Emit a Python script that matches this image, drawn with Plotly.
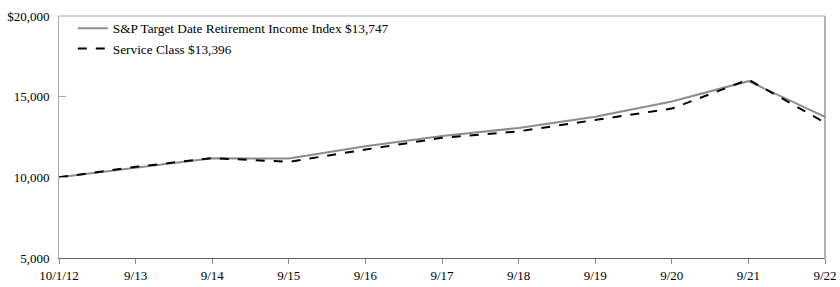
import plotly.graph_objects as go

dates = ["10/1/12", "9/13", "9/14", "9/15", "9/16", "9/17", "9/18", "9/19", "9/20", "9/21", "9/22"]
index_vals = [10000, 10600, 11180, 11170, 11930, 12560, 13060, 13750, 14700, 15960, 13747]
service_vals = [10000, 10650, 11190, 10960, 11720, 12450, 12850, 13560, 14260, 16060, 13396]
index_name = "S&P Target Date Retirement Income Index $13,747"
service_name = "Service Class $13,396"
ytickvals = [5000, 10000, 15000, 20000]
yticktext = ["5,000", "10,000", "15,000", "$20,000"]

xpos = list(range(len(dates)))

fig = go.Figure()
fig.add_trace(go.Scatter(x=xpos, y=index_vals, mode="lines", name=index_name,
                         line=dict(color="#8c8c8c", width=2)))
fig.add_trace(go.Scatter(x=xpos, y=service_vals, mode="lines", name=service_name,
                         line=dict(color="#000000", width=2, dash="dash")))

fam = "Liberation Serif, Times New Roman, serif"
font = dict(family=fam, size=13, color="#000")
fig.update_layout(
    width=840, height=287,
    margin=dict(l=59, r=15, t=16, b=29),
    paper_bgcolor="white", plot_bgcolor="white",
    font=font,
    showlegend=True,
    legend=dict(x=0.018, y=1.012, xanchor="left", yanchor="top",
                bgcolor="rgba(0,0,0,0)", font=dict(size=13.3, family=fam, color="#000"),
                tracegroupgap=0, itemwidth=30),
    xaxis=dict(range=[0, len(dates) - 1], tickvals=xpos, ticktext=dates, automargin=False,
               showgrid=False, zeroline=False, showline=True, linecolor="#666",
               linewidth=1, ticks="outside", ticklen=5, tickcolor="#888"),
    yaxis=dict(range=[5000, 20000], tickvals=ytickvals, ticktext=yticktext, automargin=False,
               showgrid=False, zeroline=False, showline=True, linecolor="#aaa",
               linewidth=1, ticks="inside", ticklen=7, tickcolor="#aaa", ticklabelstandoff=6),
    shapes=[
        dict(type="line", xref="paper", yref="paper", x0=0, x1=1, y0=1, y1=1,
             line=dict(color="#aaa", width=1)),
        dict(type="line", xref="paper", yref="paper", x0=1, x1=1, y0=0, y1=1,
             line=dict(color="#666", width=1)),
    ],
)
fig.write_html("out.html")
